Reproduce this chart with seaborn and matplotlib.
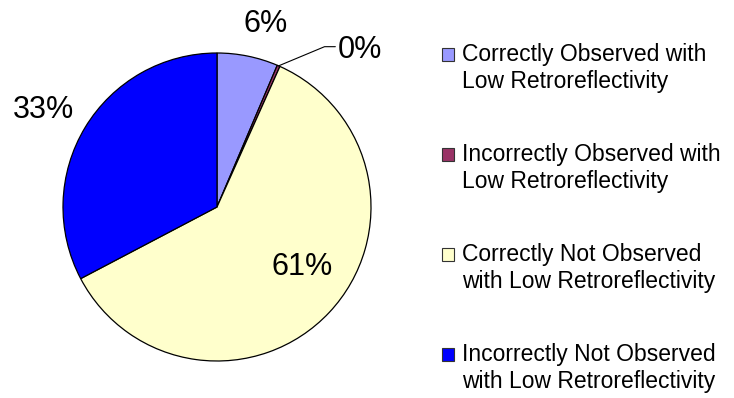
import numpy as np
import matplotlib
matplotlib.use("Agg")
import matplotlib.pyplot as plt
import seaborn as sns
from matplotlib.patches import Patch, Rectangle
from matplotlib.legend_handler import HandlerPatch

sns.set_theme(style="white")
plt.rcParams['font.family'] = ['Liberation Sans', 'DejaVu Sans']
plt.rcParams['text.color'] = 'black'

categories = [
    "Correctly Observed with\nLow Retroreflectivity",
    "Incorrectly Observed with\nLow Retroreflectivity",
    "Correctly Not Observed\nwith Low Retroreflectivity",
    "Incorrectly Not Observed\nwith Low Retroreflectivity",
]
values = [6.4, 0.3, 60.6, 32.7]
colors = ["#9999FF", "#993366", "#FFFFCC", "#0000FF"]

W, H = 734, 398
fig = plt.figure(figsize=(W / 100, H / 100), dpi=100)
# pie centre at (217, 207) px from top-left, radius ~154 px
cx, cy, R = 217, 207, 154
span = 1.3
size = 2 * span * R
ax = fig.add_axes([(cx - size / 2) / W, (H - cy - size / 2) / H, size / W, size / H])

wedges, _ = ax.pie(values, colors=colors, startangle=90, counterclock=False,
                   radius=1.0, wedgeprops=dict(edgecolor="black", linewidth=0.9))
ax.set_xlim(-span, span)
ax.set_ylim(-span, span)
ax.set_aspect("equal")
ax.axis("off")

total = sum(values)
label_dist = [1.23, 1.38, 0.675, 1.29]
angle_shift = [-3.5, -18.7, 8, 2]
for i, (w, v) in enumerate(zip(wedges, values)):
    mid = np.deg2rad((w.theta1 + w.theta2) / 2 + angle_shift[i])
    r = label_dist[i]
    tx, ty = r * np.cos(mid), r * np.sin(mid)
    ax.text(tx, ty, f"{round(v / total * 100):d}%", ha="center", va="center",
            fontsize=22, color="black", clip_on=False)
    if i == 1:
        m0 = np.deg2rad((w.theta1 + w.theta2) / 2)
        x0, y0 = np.cos(m0), np.sin(m0)
        ax.plot([x0, tx - 0.23, tx - 0.16], [y0, ty + 0.02, ty + 0.02],
                color="black", lw=0.8, clip_on=False)


def top_square(legend, orig_handle, xdescent, ydescent, width, height, fontsize):
    # square aligned with the first text line
    return Rectangle((-xdescent, -ydescent + 0.62 * fontsize), width, height)


handles = [Patch(facecolor=c, edgecolor="#333333", linewidth=0.8) for c in colors]
fig.legend(handles, categories, loc="upper left", bbox_to_anchor=(433 / W, 1 - 34 / H),
           frameon=False, fontsize=16.5, handlelength=0.5, handleheight=0.5,
           handletextpad=0.38, labelspacing=2.2, borderaxespad=0,
           handler_map={Patch: HandlerPatch(patch_func=top_square)})

fig.savefig("out.png", dpi=100)
